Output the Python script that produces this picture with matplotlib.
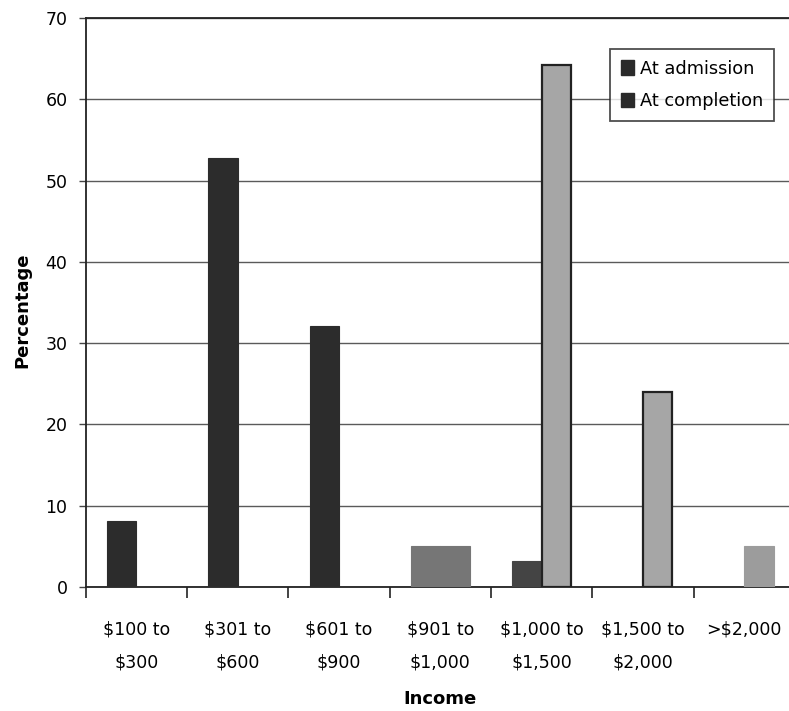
import matplotlib
matplotlib.use("Agg")
import matplotlib.pyplot as plt
from matplotlib.patches import Patch
import numpy as np

# Monthly income brackets and share of clients (%) in each
categories = ["$100 to\n$300", "$301 to\n$600", "$601 to\n$900", "$901 to\n$1,000",
              "$1,000 to\n$1,500", "$1,500 to\n$2,000", ">$2,000"]
at_admission = [8.1, 52.8, 32.1, 5.1, 3.2, 0, 0]
at_completion = [0, 0, 0, 5.1, 64.2, 24.0, 5.0]
y_ticks = [0, 10, 20, 30, 40, 50, 60, 70]

adm_colors = ["#2c2c2c", "#2c2c2c", "#2c2c2c", "#767676", "#444444", "#2c2c2c", "#2c2c2c"]
comp_colors = ["#a3a3a3", "#a3a3a3", "#a3a3a3", "#767676", "#a6a6a6", "#a6a6a6", "#9c9c9c"]
comp_edges = [True, True, True, False, True, True, False]

plt.rcParams["font.family"] = "DejaVu Sans"

fig = plt.figure(figsize=(7.89, 7.11), dpi=100)
ax = fig.add_axes([0.1085, 0.1744, 0.899, 0.8003])

x = np.arange(len(categories))
w = 0.29

for i, v in enumerate(at_admission):
    if v > 0:
        ax.bar(x[i] - w / 2, v, width=w, color=adm_colors[i], edgecolor=adm_colors[i],
               linewidth=0.8, zorder=3)
for i, v in enumerate(at_completion):
    if v > 0:
        ec = "#222222" if comp_edges[i] else comp_colors[i]
        ax.bar(x[i] + w / 2, v, width=w, color=comp_colors[i], edgecolor=ec,
               linewidth=1.6 if comp_edges[i] else 0.8, zorder=3)

ax.set_xlim(-0.5, len(categories) - 0.5)
ax.set_ylim(0, 70)
ax.set_yticks(y_ticks)
ax.set_yticklabels([str(t) for t in y_ticks], fontsize=12.5)
ax.yaxis.grid(True, color="#5a5a5a", linewidth=1.0, zorder=0)
ax.set_axisbelow(True)

# category labels centred in slots, tick marks on slot boundaries
ax.set_xticks(x)
ax.set_xticklabels(categories, fontsize=12.5, linespacing=2.05)
ax.tick_params(axis="x", which="major", length=0, pad=24)
ax.set_xticks(np.arange(len(categories) + 1) - 0.5, minor=True)
ax.tick_params(axis="x", which="minor", length=8, width=1.2, direction="out", color="#222222")
ax.tick_params(axis="y", length=5, width=1.0, direction="out", color="#444444", pad=8)

for s in ax.spines.values():
    s.set_color("#222222")
    s.set_linewidth(1.3)

fig.text(22 / 789, 1 - 310 / 711, "Percentage", rotation=90, ha="center", va="center",
         fontsize=13, fontweight="bold")
fig.text(440 / 789, 1 - 699 / 711, "Income", ha="center", va="center",
         fontsize=13, fontweight="bold")

handles = [Patch(facecolor="#2a2a2a", edgecolor="#2a2a2a", label="At admission"),
           Patch(facecolor="#2a2a2a", edgecolor="#2a2a2a", label="At completion")]
leg = ax.legend(handles=handles, loc="upper left", bbox_to_anchor=(0.74, 0.945),
                fontsize=12.8, frameon=True, fancybox=False, edgecolor="#222222",
                handlelength=0.7, handleheight=0.9, handletextpad=0.35,
                borderpad=0.6, labelspacing=0.8, borderaxespad=0)
leg.get_frame().set_linewidth(1.3)
leg.set_zorder(5)

fig.savefig("out.png", dpi=100, facecolor="white")
